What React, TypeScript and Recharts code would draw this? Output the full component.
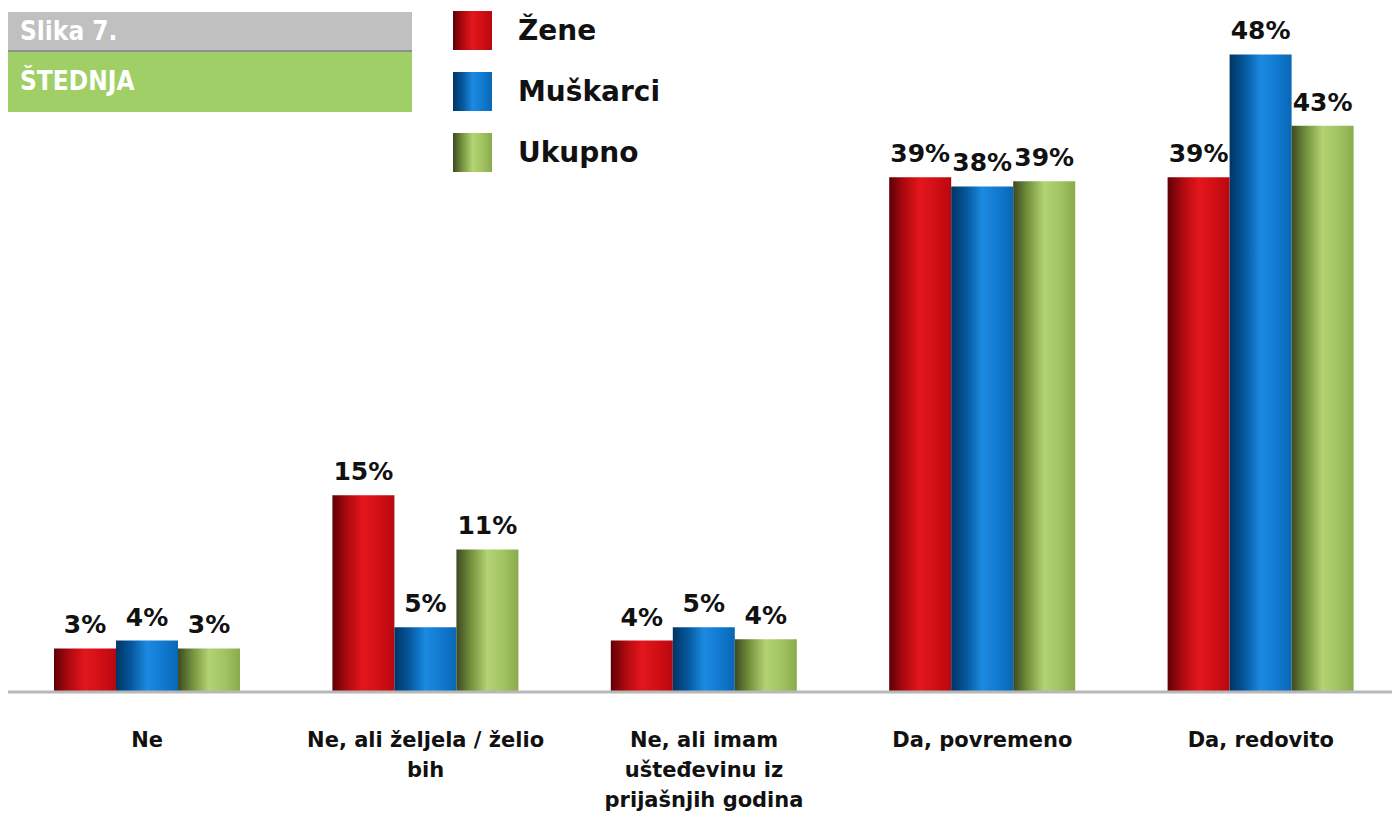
import { BarChart, Bar, XAxis, YAxis, LabelList } from "recharts";

const categories = [
  "Ne",
  "Ne, ali željela / želio\nbih",
  "Ne, ali imam\nušteđevinu iz\nprijašnjih godina",
  "Da, povremeno",
  "Da, redovito",
];
const zene = [3.3, 14.9, 3.9, 39.0, 39.0];
const muskarci = [3.9, 4.9, 4.9, 38.3, 48.3];
const ukupno = [3.3, 10.8, 4.0, 38.7, 42.9];

const seriesNames = ["Žene", "Muškarci", "Ukupno"];

const data = categories.map((name, i) => ({
  name,
  zene: zene[i],
  muskarci: muskarci[i],
  ukupno: ukupno[i],
}));

const FONT = "'DejaVu Sans', Roboto, sans-serif";
const NARROW = "'Liberation Sans Narrow', 'DejaVu Sans Condensed', Roboto, sans-serif";

const gradients = [
  { id: "gRed", stops: ["#5e0006", "#b00a10", "#e3171d", "#d10f15", "#b8080e"] },
  { id: "gBlue", stops: ["#013564", "#05599f", "#1b8ae0", "#117ad0", "#0967b6"] },
  { id: "gGreen", stops: ["#3d4a22", "#77963f", "#b3d374", "#a3c462", "#8aab4c"] },
];

const pct = (v: any) => `${Math.round(Number(v))}%`;

function CategoryTick(props: any) {
  const { x, y, payload } = props;
  const lines = String(payload.value).split("\n");
  return (
    <g transform={`translate(${x},${y})`}>
      {lines.map((l, i) => (
        <text
          key={i}
          x={0}
          y={47 + i * 30}
          textAnchor="middle"
          fontFamily={FONT}
          fontWeight={700}
          fontSize={21}
          fill="#111"
        >
          {l}
        </text>
      ))}
    </g>
  );
}

function LegendBox() {
  return (
    <div style={{ position: "absolute", left: 445, top: 3, zIndex: 2 }}>
      {seriesNames.map((n, i) => (
        <div key={n} style={{ display: "flex", alignItems: "center", height: 39, marginBottom: 22 }}>
          <div
            style={{
              width: 39,
              height: 39,
              background: `linear-gradient(to right, ${gradients[i].stops.join(", ")})`,
            }}
          />
          <span
            style={{
              marginLeft: 26,
              fontFamily: FONT,
              fontWeight: 700,
              fontSize: 28,
              color: "#111",
            }}
          >
            {n}
          </span>
        </div>
      ))}
    </div>
  );
}

export default function App() {
  return (
    <div style={{ position: "relative", width: 1392, height: 808 }}>
      <div style={{ position: "absolute", left: 0, top: 4, width: 404, zIndex: 2 }}>
        <div
          style={{
            background: "#c0c0c0",
            height: 38,
            borderBottom: "2px solid #8f8f8f",
            color: "#fff",
            fontFamily: NARROW,
            fontWeight: 700,
            fontSize: 26,
            lineHeight: "38px",
            paddingLeft: 12,
          }}
        >
          Slika 7.
        </div>
        <div
          style={{
            background: "#a0cf67",
            height: 60,
            color: "#fff",
            fontFamily: NARROW,
            fontWeight: 700,
            fontSize: 26,
            lineHeight: "58px",
            paddingLeft: 12,
          }}
        >
          ŠTEDNJA
        </div>
      </div>
      <LegendBox />
      <BarChart
        width={1392}
        height={808}
        data={data}
        margin={{ top: 24, right: 0, left: 0, bottom: 0 }}
        barCategoryGap={46}
        barGap={0}
      >
        <defs>
          {gradients.map((g) => (
            <linearGradient key={g.id} id={g.id} x1="0" y1="0" x2="1" y2="0">
              {g.stops.map((c, j) => (
                <stop key={j} offset={j / (g.stops.length - 1)} stopColor={c} />
              ))}
            </linearGradient>
          ))}
        </defs>
        <XAxis
          dataKey="name"
          height={124}
          interval={0}
          tickLine={false}
          axisLine={{ stroke: "#b8b8b8", strokeWidth: 3 }}
          tick={<CategoryTick />}
        />
        <YAxis hide domain={[0, 50]} />
        <Bar dataKey="zene" name={seriesNames[0]} fill="url(#gRed)" isAnimationActive={false}>
          <LabelList dataKey="zene" position="top" offset={15} formatter={pct} fill="#111" fontSize={25} fontWeight={700} fontFamily={FONT} />
        </Bar>
        <Bar dataKey="muskarci" name={seriesNames[1]} fill="url(#gBlue)" isAnimationActive={false}>
          <LabelList dataKey="muskarci" position="top" offset={15} formatter={pct} fill="#111" fontSize={25} fontWeight={700} fontFamily={FONT} />
        </Bar>
        <Bar dataKey="ukupno" name={seriesNames[2]} fill="url(#gGreen)" isAnimationActive={false}>
          <LabelList dataKey="ukupno" position="top" offset={15} formatter={pct} fill="#111" fontSize={25} fontWeight={700} fontFamily={FONT} />
        </Bar>
      </BarChart>
    </div>
  );
}
